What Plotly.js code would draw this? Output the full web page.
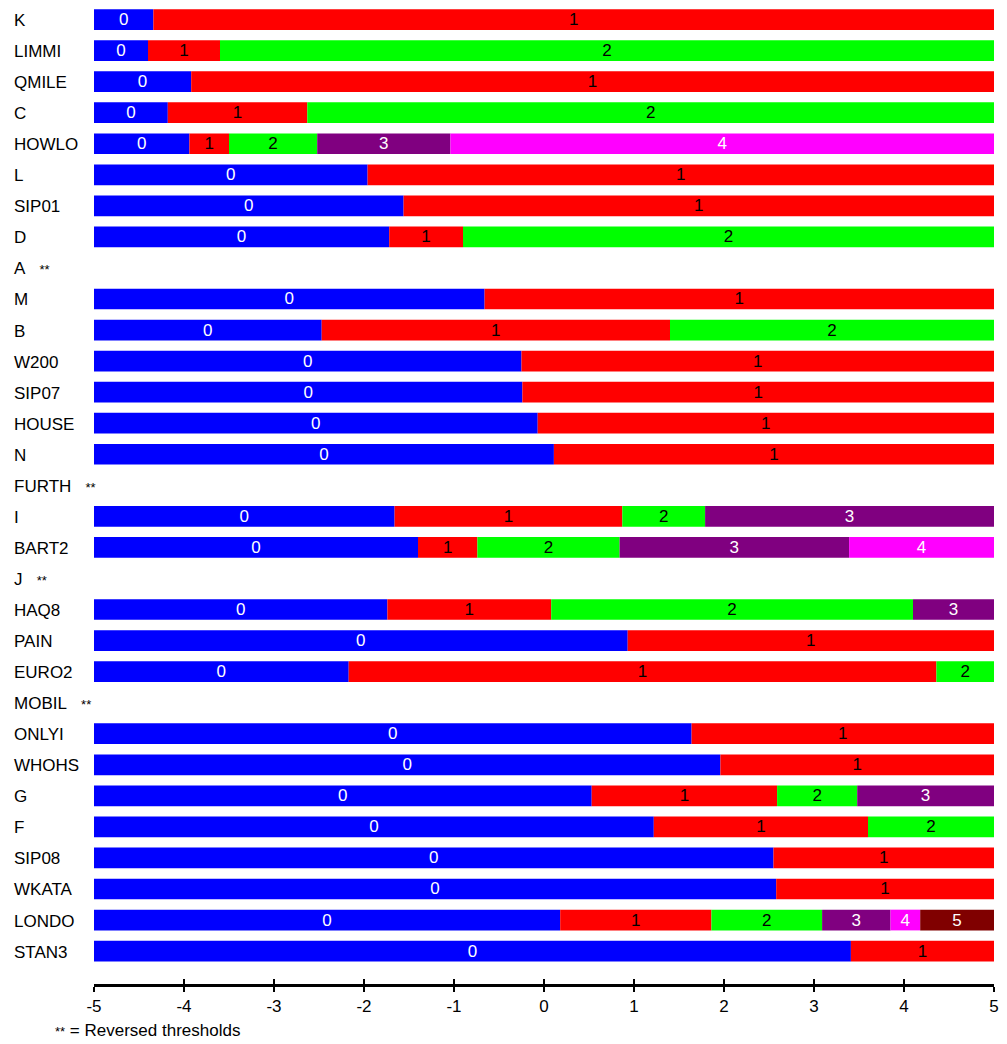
<!DOCTYPE html>
<html>
<head>
<meta charset="utf-8">
<script src="https://cdn.plot.ly/plotly-3.0.1.min.js"></script>
<style>
  html, body { margin: 0; padding: 0; background: #ffffff; }
  #chart { width: 1007px; height: 1044px; }
</style>
</head>
<body>
<div id="chart"></div>
<script>
// ---- data ----
const items = ['K','LIMMI','QMILE','C','HOWLO','L','SIP01','D','A','M','B','W200','SIP07','HOUSE','N','FURTH','I','BART2','J','HAQ8','PAIN','EURO2','MOBIL','ONLYI','WHOHS','G','F','SIP08','WKATA','LONDO','STAN3'];
const reversedFlags = [false,false,false,false,false,false,false,false,true,false,false,false,false,false,false,true,false,false,true,false,false,false,true,false,false,false,false,false,false,false,false];
const thresholds = [
  [-4.34],
  [-4.40, -3.60],
  [-3.92],
  [-4.18, -2.63],
  [-3.94, -3.50, -2.52, -1.04],
  [-1.96],
  [-1.56],
  [-1.72, -0.90],
  [],
  [-0.66],
  [-2.47, 1.40],
  [-0.25],
  [-0.24],
  [-0.07],
  [0.11],
  [],
  [-1.66, 0.87, 1.79],
  [-1.40, -0.74, 0.84, 3.39],
  [],
  [-1.74, 0.08, 4.10],
  [0.93],
  [-2.17, 4.36],
  [],
  [1.64],
  [1.96],
  [0.53, 2.59, 3.48],
  [1.22, 3.60],
  [2.55],
  [2.58],
  [0.18, 1.86, 3.09, 3.85, 4.18],
  [3.41]
];
const categoryLabels = ['0','1','2','3','4','5'];
const xTicks = [-5,-4,-3,-2,-1,0,1,2,3,4,5];
const footnote = '** = Reversed thresholds';

// ---- styles ----
const FONT = 'Liberation Sans, Arial, sans-serif';
const levelColors = ['#0000ff','#ff0000','#00ff00','#800080','#ff00ff','#800000'];
const levelTextColors = ['#ffffff','#000000','#000000','#ffffff','#ffffff','#ffffff'];
const xMin = -5, xMax = 5;

const idx = items.map((_, i) => i);
const traces = [];
for (let k = 0; k < categoryLabels.length; k++) {
  const base = [], w = [], txt = [];
  items.forEach((it, i) => {
    const t = thresholds[i];
    if (t.length === 0 || k > t.length) { base.push(null); w.push(null); txt.push(''); return; }
    const lo = k === 0 ? xMin : t[k - 1];
    const hi = k < t.length ? t[k] : xMax;
    base.push(lo); w.push(hi - lo); txt.push(categoryLabels[k]);
  });
  traces.push({
    type: 'bar', orientation: 'h', y: idx, x: w, base: base, width: 0.667,
    marker: { color: levelColors[k], line: { width: 0 } },
    text: txt, textposition: 'inside', insidetextanchor: 'middle', textangle: 0,
    constraintext: 'none',
    textfont: { color: levelTextColors[k], size: 17, family: FONT },
    hoverinfo: 'none', showlegend: false, cliponaxis: false
  });
}
// invisible helper trace for the upward tick overlay axis
traces.push({ type: 'scatter', x: [xMin, xMax], y: [0, 0], xaxis: 'x2', yaxis: 'y', mode: 'markers', marker: { opacity: 0 }, hoverinfo: 'none', showlegend: false });

const annotations = items.map((it, i) => ({
  xref: 'paper', yref: 'y', x: (12 - 94) / 900, y: i, xanchor: 'left', yanchor: 'middle', yshift: -1,
  text: reversedFlags[i] ? it + '&nbsp;&nbsp;&nbsp;<span style="font-size:13px">**</span>' : it,
  showarrow: false, font: { family: FONT, size: 17, color: '#000000' }
}));
annotations.push({
  xref: 'paper', yref: 'paper', x: (53 - 94) / 900, y: (984 - 1030) / 980, xanchor: 'left', yanchor: 'middle',
  text: footnote.replace('**', '<span style="font-size:13px">**</span>'),
  showarrow: false, font: { family: FONT, size: 17, color: '#000000' }
});

const layout = {
  width: 1007, height: 1044,
  margin: { l: 94, r: 13, t: 4, b: 60, pad: 0 },
  paper_bgcolor: '#ffffff', plot_bgcolor: '#ffffff',
  barmode: 'overlay', showlegend: false, hovermode: false,
  font: { family: FONT, size: 17, color: '#000000' },
  xaxis: {
    range: [xMin, xMax], tickvals: xTicks, ticktext: xTicks.map(String),
    showgrid: false, zeroline: false, showline: true, linecolor: '#000000', linewidth: 3,
    ticks: 'outside', ticklen: 5, tickwidth: 2, tickcolor: '#000000',
    tickfont: { family: FONT, size: 17, color: '#000000' }, fixedrange: true
  },
  xaxis2: {
    overlaying: 'x', anchor: 'y', side: 'bottom', range: [xMin, xMax], tickvals: xTicks,
    showticklabels: false, showgrid: false, zeroline: false, showline: false,
    ticks: 'inside', ticklen: 5, tickwidth: 2, tickcolor: '#000000', fixedrange: true
  },
  yaxis: {
    range: [31.06, -0.5], showticklabels: false, showgrid: false, zeroline: false,
    showline: false, ticks: '', fixedrange: true
  },
  annotations: annotations
};

Plotly.newPlot('chart', traces, layout, { displayModeBar: false, staticPlot: true });
</script>
</body>
</html>
